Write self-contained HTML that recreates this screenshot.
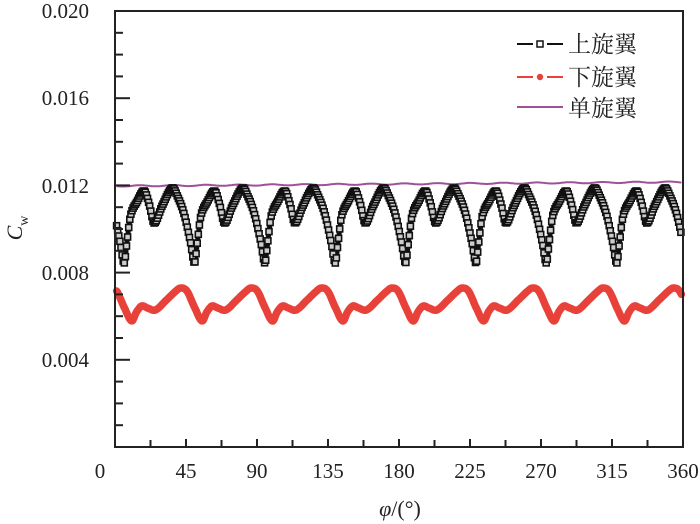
<!DOCTYPE html>
<html><head><meta charset="utf-8"><style>
html,body{margin:0;padding:0;background:#fff;}
svg{display:block;font-family:"Liberation Serif","Noto Serif CJK SC",serif;}
</style></head><body>
<svg id="s" width="700" height="524" viewBox="0 0 700 524" xmlns="http://www.w3.org/2000/svg">
<rect width="700" height="524" fill="#fff"/>
<g id="data"></g>
<rect x="115" y="11" width="568" height="436" fill="none" stroke="#222" stroke-width="2"/>
<g id="ticks" stroke="#222" stroke-width="2"></g>
<g font-size="21" fill="#222" text-anchor="end">
<text x="89" y="18">0.020</text>
<text x="89" y="105">0.016</text>
<text x="89" y="193">0.012</text>
<text x="89" y="280">0.008</text>
<text x="89" y="367">0.004</text>
</g>
<g font-size="21" fill="#222" text-anchor="middle" id="xl"></g>
<text x="400" y="516" font-size="22" text-anchor="middle" fill="#222"><tspan font-style="italic">φ</tspan>/(°)</text>
<text transform="translate(22,228) rotate(-90)" font-size="22" text-anchor="middle" fill="#222"><tspan font-style="italic">C</tspan><tspan font-size="14" dy="6">w</tspan></text>
<g font-size="23" fill="#222">
<line x1="517" y1="44" x2="533" y2="44" stroke="#111" stroke-width="2"/><line x1="547" y1="44" x2="563" y2="44" stroke="#111" stroke-width="2"/>
<rect x="537" y="41" width="6" height="6" fill="#fff" stroke="#111" stroke-width="1.5"/>
<text x="568" y="52">上旋翼</text>
<line x1="517" y1="77" x2="533" y2="77" stroke="#e8413a" stroke-width="2"/><line x1="547" y1="77" x2="563" y2="77" stroke="#e8413a" stroke-width="2"/>
<circle cx="540" cy="77" r="3.2" fill="#e8413a"/>
<text x="568" y="85">下旋翼</text>
<line x1="517" y1="107" x2="563" y2="107" stroke="#a0509a" stroke-width="2"/>
<text x="568" y="116">单旋翼</text>
</g>
</svg>
<script>
var NS="http://www.w3.org/2000/svg";
function X(p){return 115+p*568/360;}
function el(t,a,par){var e=document.createElementNS(NS,t);for(var k in a)e.setAttribute(k,a[k]);par.appendChild(e);return e;}
var tk=document.getElementById("ticks");
for(var i=1;i<20;i++){var y=447-i*21.8;var L=(i%4==0)?15:8;el("line",{x1:115,y1:y,x2:115+L,y2:y},tk);}
for(var i=1;i<16;i++){var x=X(i*22.5);var L=(i%2==0)?8:7;el("line",{x1:x,y1:447,x2:x,y2:447-L},tk);}
var xl=document.getElementById("xl");
for(var i=0;i<=8;i++){var t=el("text",{x:(i==0?100:X(i*45)),y:478},xl);t.textContent=i*45;}
function build(keys,P,d0){var pts=[];for(var k=-2;k<10;k++){for(var i=0;i<keys.length-1;i++){pts.push([d0+k*P+keys[i][0],keys[i][1]]);}}return pts;}
function sample(pts,phi){for(var i=1;i<pts.length-2;i++){if(phi>=pts[i][0]&&phi<=pts[i+1][0]){var p0=pts[i-1],p1=pts[i],p2=pts[i+1],p3=pts[i+2];var t=(phi-p1[0])/(p2[0]-p1[0]);
var m1=(p2[1]-p0[1])/(p2[0]-p0[0])*(p2[0]-p1[0]),m2=(p3[1]-p1[1])/(p3[0]-p1[0])*(p2[0]-p1[0]);
var t2=t*t,t3=t2*t;return (2*t3-3*t2+1)*p1[1]+(t3-2*t2+t)*m1+(-2*t3+3*t2)*p2[1]+(t3-t2)*m2;}}return pts[0][1];}
var g=document.getElementById("data");
var pp=[];for(var p=1;p<=359;p+=1){var y=186-p/360*4+Math.sin(p*0.3)*0.6;pp.push(X(p).toFixed(1)+","+y.toFixed(1));}
el("polyline",{points:pp.join(" "),fill:"none",stroke:"#a0509a","stroke-width":2},g);
var bk=[[0,263],[1.8,242],[4,216],[8,202],[12.7,191],[16,205],[19,223],[24,206],[30.4,188],[34,197],[38,214],[42,242],[44.4,263]];
var bpts=build(bk,44.6,5.8);
var bp=[];for(var p=1;p<=359;p+=0.7){bp.push([X(p),sample(bpts,p)]);}
el("polyline",{points:bp.map(function(a){return a[0].toFixed(1)+","+a[1].toFixed(1)}).join(" "),fill:"none",stroke:"#111","stroke-width":5,"stroke-linejoin":"round"},g);
bp.forEach(function(a){el("rect",{x:(a[0]-3).toFixed(1),y:(a[1]-3).toFixed(1),width:6,height:6,fill:"#ccc",stroke:"#111","stroke-width":1.6},g);});
var rk=[[0,321],[3,312],[6.3,306],[10,308],[15,310],[22,300],[28,291],[31,288],[35,291],[40,308],[44.5,321]];
var rpts=build(rk,44.6,10.6);
var rp=[];for(var p=1;p<=359;p+=0.5){rp.push(X(p).toFixed(1)+","+sample(rpts,p).toFixed(1));}
el("polyline",{points:rp.join(" "),fill:"none",stroke:"#e8413a","stroke-width":7.5,"stroke-linejoin":"round","stroke-linecap":"round"},g);
</script>
</body></html>
